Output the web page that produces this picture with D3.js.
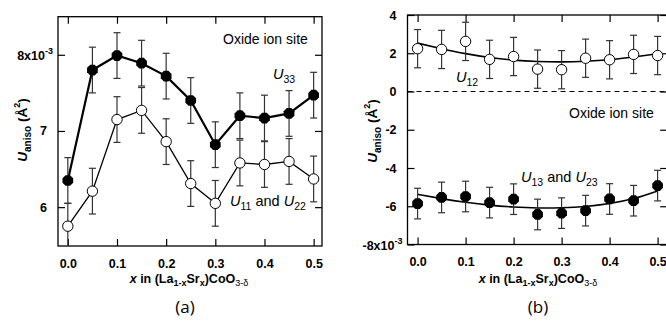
<!DOCTYPE html>
<html><head><meta charset="utf-8">
<script src="https://cdn.jsdelivr.net/npm/d3@7"></script>
<style>
html,body{margin:0;padding:0;background:#fff;}
svg text{font-family:"Liberation Sans",Arial,sans-serif;}
</style></head>
<body><svg id="c" width="666" height="323"></svg>
<script>
// ---------- data ----------
const xVals = [0, 0.05, 0.1, 0.15, 0.2, 0.25, 0.3, 0.35, 0.4, 0.45, 0.5];
// panel (a), units of 1e-3 Å^2
const U33 = [6.35, 7.80, 7.99, 7.89, 7.72, 7.40, 6.82, 7.20, 7.17, 7.23, 7.47];
const U33err = [0.30, 0.30, 0.30, 0.30, 0.30, 0.30, 0.30, 0.30, 0.30, 0.30, 0.30];
const U11 = [5.75, 6.21, 7.15, 7.27, 6.86, 6.31, 6.05, 6.58, 6.56, 6.60, 6.37];
const U11err = [0.30, 0.30, 0.30, 0.30, 0.30, 0.30, 0.30, 0.30, 0.30, 0.30, 0.30];
// panel (b)
const U12 = [2.24, 2.20, 2.62, 1.68, 1.83, 1.17, 1.14, 1.74, 1.66, 1.94, 1.88];
const U12err = [1.0, 1.0, 1.0, 1.0, 1.0, 1.0, 1.0, 1.0, 1.0, 1.0, 1.0];
const U12fit = [2.53, 2.24, 1.98, 1.78, 1.64, 1.57, 1.55, 1.58, 1.66, 1.80, 1.97];
const U13 = [-5.86, -5.54, -5.49, -5.81, -5.63, -6.43, -6.36, -6.23, -5.62, -5.71, -4.92];
const U13err = [0.8, 0.8, 0.8, 0.8, 0.8, 0.8, 0.8, 0.8, 0.8, 0.8, 0.8];
const U13fit = [-5.38, -5.60, -5.79, -5.94, -6.04, -6.09, -6.08, -6.01, -5.86, -5.60, -5.20];
const xTicks = [0, 0.1, 0.2, 0.3, 0.4, 0.5];
const yTicksA = [6, 7, 8];
const yTicksB = [-8, -6, -4, -2, 0, 2, 4];

const svg = d3.select("#c");

function octPath(cx, cy, r) {
  const pts = d3.range(8).map(i => {
    const a = Math.PI / 8 + i * Math.PI / 4;
    return [cx + r * Math.cos(a), cy + r * Math.sin(a)];
  });
  return "M" + pts.map(p => p.join(",")).join("L") + "Z";
}

function panel(cfg) {
  const g = svg.append("g");
  const x = d3.scaleLinear().domain(cfg.xDomain).range(cfg.xRange);
  const y = d3.scaleLinear().domain(cfg.yDomain).range(cfg.yRange);
  const [x0, x1] = cfg.xRange, [y0, y1] = [cfg.yRange[1], cfg.yRange[0]];

  // axes with inward ticks
  const ax = (axis, tr) => g.append("g").attr("transform", tr).call(axis)
    .call(s => s.select(".domain").remove())
    .call(s => s.selectAll("line").attr("stroke", "#000").attr("stroke-width", 1.2));
  ax(d3.axisBottom(x).tickValues(xTicks).tickSize(-7).tickFormat(d3.format(".1f")).tickPadding(13), `translate(0,${y1})`)
    .selectAll("text").attr("font-size", 12.5).attr("font-weight", "bold").attr("fill", "#000");
  ax(d3.axisTop(x).tickValues(xTicks).tickSize(-7).tickFormat(""), `translate(0,${y0})`);
  const la = ax(d3.axisLeft(y).tickValues(cfg.yTicks).tickSize(-7).tickPadding(11).tickFormat(d => d === cfg.expTick ? "" : d), `translate(${x0},0)`);
  la.selectAll("text").attr("font-size", 12.5).attr("font-weight", "bold").attr("fill", "#000");
  ax(d3.axisRight(y).tickValues(cfg.yTicks).tickSize(-7).tickFormat(""), `translate(${x1},0)`);
  // exponent label
  const et = g.append("text").attr("x", x0 - 5).attr("y", y(cfg.expTick) + 5)
    .attr("text-anchor", "end").attr("font-size", 12.5).attr("font-weight", "bold");
  et.append("tspan").text(cfg.expTick + "x10");
  et.append("tspan").attr("dy", -6).attr("font-size", 9).text("-3");

  // frame
  g.append("rect").attr("x", x0).attr("y", y0).attr("width", x1 - x0).attr("height", y1 - y0)
    .attr("fill", "none").attr("stroke", "#000").attr("stroke-width", 1.3);

  if (cfg.zeroLine) {
    g.append("line").attr("x1", x0).attr("x2", x1).attr("y1", y(0)).attr("y2", y(0))
      .attr("stroke", "#000").attr("stroke-width", 1).attr("stroke-dasharray", "5,4");
  }

  const clip = g.append("g");
  cfg.series.forEach(s => {
    const data = xVals.map((xv, i) => ({x: xv, v: s.values[i], e: s.err[i], f: s.fit ? s.fit[i] : null}));
    // line or fit
    if (s.fit) {
      clip.append("path").datum(data).attr("fill", "none").attr("stroke", "#000").attr("stroke-width", 1.6)
        .attr("d", d3.line().x(d => x(d.x)).y(d => y(d.f)).curve(d3.curveNatural));
    } else {
      clip.append("path").datum(data).attr("fill", "none").attr("stroke", "#000").attr("stroke-width", s.lw)
        .attr("d", d3.line().x(d => x(d.x)).y(d => y(d.v)));
    }
    // error bars
    const eb = clip.append("g").attr("stroke", "#333").attr("stroke-width", 1.2);
    data.forEach(d => {
      const top = Math.max(y(d.v + d.e), y0), bot = Math.min(y(d.v - d.e), y1);
      eb.append("line").attr("x1", x(d.x)).attr("x2", x(d.x)).attr("y1", top).attr("y2", bot);
      if (y(d.v + d.e) >= y0) eb.append("line").attr("x1", x(d.x) - 3.5).attr("x2", x(d.x) + 3.5).attr("y1", top).attr("y2", top);
      if (y(d.v - d.e) <= y1) eb.append("line").attr("x1", x(d.x) - 3.5).attr("x2", x(d.x) + 3.5).attr("y1", bot).attr("y2", bot);
    });
    // markers
    data.forEach(d => {
      if (s.filled) {
        clip.append("path").attr("d", octPath(x(d.x), y(d.v), 5.8)).attr("fill", "#000");
      } else {
        clip.append("circle").attr("cx", x(d.x)).attr("cy", y(d.v)).attr("r", 5.2)
          .attr("fill", "#fff").attr("stroke", "#000").attr("stroke-width", 1);
      }
    });
  });

  // annotation labels
  g.append("text").attr("x", cfg.oxide[0]).attr("y", cfg.oxide[1]).attr("font-size", 14).text("Oxide ion site");
  cfg.labels.forEach(l => {
    const t = g.append("text").attr("x", l.x).attr("y", l.y).attr("font-size", 14.5);
    l.parts.forEach(p => {
      const ts = t.append("tspan").text(p.t);
      if (p.i) ts.attr("font-style", "italic");
      if (p.sub) ts.attr("font-size", 10.5).attr("dy", 4);
      if (p.up) ts.attr("dy", -4);
    });
  });

  // y axis title
  const yt = g.append("text").attr("transform", `translate(${cfg.yTitle[0]},${cfg.yTitle[1]}) rotate(-90)`)
    .attr("text-anchor", "middle").attr("font-size", 13.5).attr("font-weight", "bold");
  yt.append("tspan").attr("font-style", "italic").text("U");
  yt.append("tspan").attr("font-size", 10).attr("dy", 4).text("aniso");
  yt.append("tspan").attr("dy", -4).text(" (Å");
  yt.append("tspan").attr("font-size", 9).attr("dy", -7).text("2");
  yt.append("tspan").attr("dy", 7).text(")");

  // x axis title
  const xt = g.append("text").attr("x", cfg.xTitle[0]).attr("y", cfg.xTitle[1])
    .attr("text-anchor", "middle").attr("font-size", 12.5).attr("font-weight", "bold");
  xt.append("tspan").attr("font-style", "italic").text("x");
  xt.append("tspan").text(" in (La");
  xt.append("tspan").attr("font-size", 9).attr("dy", 3).text("1-x");
  xt.append("tspan").attr("dy", -3).text("Sr");
  xt.append("tspan").attr("font-size", 9).attr("dy", 3).text("x");
  xt.append("tspan").attr("dy", -3).text(")CoO");
  xt.append("tspan").attr("font-size", 9).attr("dy", 3).attr("font-weight", "normal").text("3-δ");

  // panel letter
  g.append("text").attr("x", cfg.letter[0]).attr("y", cfg.letter[1]).attr("text-anchor", "middle")
    .attr("font-size", 17).style("font-family", "'Open Sans', sans-serif").text(cfg.letter[2]);
}

panel({
  xDomain: [-0.02, 0.517], xRange: [58, 322],
  yDomain: [5.49, 8.5], yRange: [246, 16.7],
  yTicks: yTicksA, expTick: 8,
  series: [
    {values: U11, err: U11err, filled: false, lw: 1.3},
    {values: U33, err: U33err, filled: true, lw: 2.2}
  ],
  oxide: [223, 44],
  labels: [
    {x: 273, y: 79, parts: [{t: "U", i: true}, {t: "33", sub: true}]},
    {x: 230, y: 206, parts: [{t: "U", i: true}, {t: "11", sub: true}, {t: " and ", up: true}, {t: "U", i: true}, {t: "22", sub: true}]}
  ],
  yTitle: [27, 130], xTitle: [189, 283], letter: [185, 313, "(a)"]
});

panel({
  xDomain: [-0.021, 0.52], xRange: [407.5, 667.2],
  yDomain: [-8, 4], yRange: [244.5, 15],
  yTicks: yTicksB, expTick: -8, zeroLine: true,
  series: [
    {values: U12, err: U12err, fit: U12fit, filled: false},
    {values: U13, err: U13err, fit: U13fit, filled: true}
  ],
  oxide: [569, 118],
  labels: [
    {x: 456, y: 82, parts: [{t: "U", i: true}, {t: "12", sub: true}]},
    {x: 521, y: 182, parts: [{t: "U", i: true}, {t: "13", sub: true}, {t: " and ", up: true}, {t: "U", i: true}, {t: "23", sub: true}]}
  ],
  yTitle: [377, 131], xTitle: [538, 283], letter: [538, 313, "(b)"]
});
</script></body></html>
